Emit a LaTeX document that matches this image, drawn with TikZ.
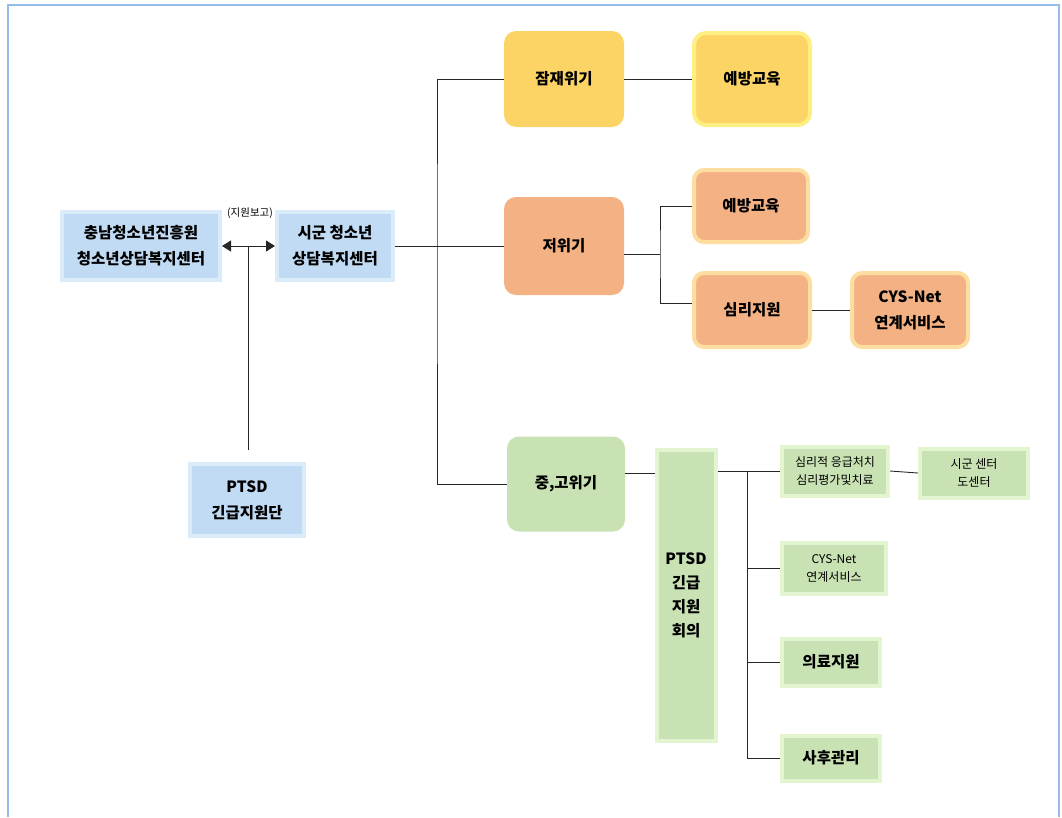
\documentclass[tikz,border=0pt]{standalone}
\usepackage{fontspec}
\setmainfont{Noto Sans CJK KR}
\usetikzlibrary{arrows.meta}
\definecolor{bluebox}{RGB}{192,219,243}
\definecolor{bluerim}{RGB}{218,235,250}
\definecolor{yelbox}{RGB}{252,212,102}
\definecolor{yelrim}{RGB}{255,238,130}
\definecolor{orgbox}{RGB}{244,178,132}
\definecolor{orgrim}{RGB}{252,222,160}
\definecolor{grnbox}{RGB}{200,226,180}
\definecolor{grnrim}{RGB}{226,244,208}
\definecolor{framec}{RGB}{150,187,232}
\tikzset{
  box/.style={inner sep=0pt,align=center,font=\bfseries\fontsize{15.5}{26}\selectfont},
  sbox/.style={inner sep=0pt,align=center,font=\fontsize{12}{18}\selectfont},
  blueb/.style={fill=bluebox,draw=bluerim,line width=4pt},
  yelr/.style={fill=yelbox,rounded corners=12pt},
  yelg/.style={fill=yelbox,draw=yelrim,line width=4pt,rounded corners=12pt},
  orgr/.style={fill=orgbox,rounded corners=12pt},
  orgg/.style={fill=orgbox,draw=orgrim,line width=4pt,rounded corners=10pt},
  grnr/.style={fill=grnbox,rounded corners=12pt},
  grnb/.style={fill=grnbox,draw=grnrim,line width=4pt},
  conn/.style={draw=black!85,line width=0.9pt}
}
\begin{document}
\begin{tikzpicture}[x=1pt,y=-1pt]
\useasboundingbox (0,0) rectangle (1062,817);
\draw[framec,line width=1.5pt] (8,817) -- (8,5) -- (1059,5) -- (1059,817);
\node[box,blueb,minimum width=158pt,minimum height=68pt] (cn) at (141,246) {충남청소년진흥원\\청소년상담복지센터};
\node[box,blueb,minimum width=116pt,minimum height=68pt] (sigun) at (335,246) {시군 청소년\\상담복지센터};
\node[box,blueb,minimum width=114pt,minimum height=72pt] (ptsd) at (247,500) {PTSD\\긴급지원단};
\node[box,yelr,minimum width=120pt,minimum height=96pt] (jam) at (564,79) {잠재위기};
\node[box,yelg,minimum width=116pt,minimum height=92pt] (yb1) at (752,79) {예방교육};
\node[box,orgr,minimum width=120pt,minimum height=98pt] (jeo) at (564,246) {저위기};
\node[box,orgg,minimum width=114pt,minimum height=72pt] (yb2) at (751,206) {예방교육};
\node[box,orgg,minimum width=116pt,minimum height=74pt] (simri) at (752,310) {심리지원};
\node[box,orgg,minimum width=116pt,minimum height=74pt] (cys1) at (910,310) {CYS-Net\\연계서비스};
\node[box,grnr,minimum width=118pt,minimum height=95pt] (joong) at (566,484) {중,고위기};
\node[box,grnb,minimum width=59pt,minimum height=291pt,font=\bfseries\fontsize{15.5}{24}\selectfont] (meet) at (686,595) {PTSD\\긴급\\지원\\회의};
\node[sbox,grnb,minimum width=106pt,minimum height=49pt] (psy) at (835,471) {심리적 응급처치\\심리평가및치료};
\node[sbox,grnb,minimum width=108pt,minimum height=49pt] (city) at (974,473) {시군 센터\\도센터};
\node[sbox,grnb,minimum width=104pt,minimum height=51pt] (cys2) at (834,568) {CYS-Net\\연계서비스};
\node[box,grnb,minimum width=98pt,minimum height=47pt] (med) at (831,662) {의료지원};
\node[box,grnb,minimum width=98pt,minimum height=45pt] (aft) at (831,758) {사후관리};
\node[font=\fontsize{10.5}{12}\selectfont] (rep) at (250,213) {(지원보고)};
\coordinate (mid) at (248,246);
\coordinate (tk) at (437,246);
\coordinate (j2) at (660,254);
\coordinate (j3) at (747,471);
\draw[conn,{Triangle[length=9pt,width=11pt]}-{Triangle[length=9pt,width=11pt]}] (cn.east) -- (sigun.west);
\draw[conn] (mid) -- ([yshift=12pt]ptsd.north -| mid);
\draw[conn] (sigun.east) -- (jeo.west);
\draw[conn] (jam.west) -| (tk) |- (joong.west);
\draw[conn] (jam.east) -- (yb1.west);
\draw[conn] (jeo.east |- j2) -- (j2);
\draw[conn] (yb2.west) -| (j2) |- ([yshift=7pt]simri.west);
\draw[conn] (simri.east) -- (cys1.west);
\draw[conn] ([yshift=11pt]joong.east) -- ([yshift=11pt]joong.east -| meet.west);
\draw[conn] (meet.east |- psy) -- (psy.west);
\draw[conn] (j3) |- (aft.west);
\draw[conn] (j3 |- cys2) -- (cys2.west);
\draw[conn] (j3 |- med) -- (med.west);
\draw[conn] (psy.east) -- (city.west);
\end{tikzpicture}
\end{document}
